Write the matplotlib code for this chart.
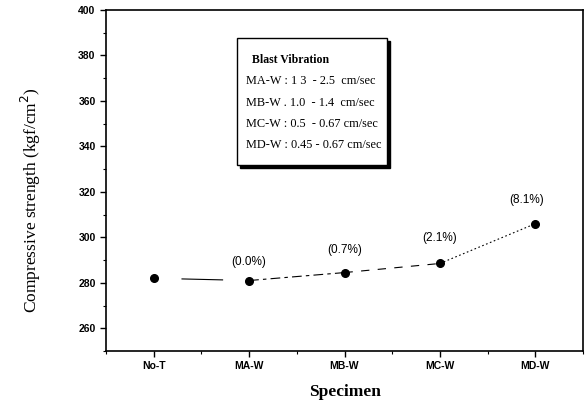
import matplotlib
matplotlib.use("Agg")
import matplotlib.pyplot as plt
from matplotlib.patches import Rectangle
from matplotlib.ticker import MultipleLocator

categories = ["No-T", "MA-W", "MB-W", "MC-W", "MD-W"]
strength = [282, 281, 284.5, 288.5, 306]
pct_labels = ["", "(0.0%)", "(0.7%)", "(2.1%)", "(8.1%)"]
legend_title = "Blast Vibration"
legend_lines = ["MA-W : 1 3  - 2.5  cm/sec",
                "MB-W . 1.0  - 1.4  cm/sec",
                "MC-W : 0.5  - 0.67 cm/sec",
                "MD-W : 0.45 - 0.67 cm/sec"]

plt.rcParams['lines.scale_dashes'] = False
serif = ["Liberation Serif", "DejaVu Serif"]
sans = ["Liberation Sans", "DejaVu Sans"]

fig = plt.figure(figsize=(5.87, 4.07), dpi=100)
ax = fig.add_axes([106/587, 1-351/407, (583-106)/587, (351-10)/407])

x = list(range(len(categories)))
styles = [(53, (30, 43)), (0, (7, 3, 2.5, 3)), (0, (6, 6)), (0, (1.2, 1.8))]
for i in range(len(x) - 1):
    ax.plot(x[i:i+2], strength[i:i+2], color="black", lw=0.8, linestyle=styles[i])
ax.plot(x, strength, linestyle="none", marker="o", ms=5.5, color="black")

offsets = [(0, 0), (0, 9), (0, 12), (0, 14), (-6, 13)]
for i, lab in enumerate(pct_labels):
    if lab:
        ax.annotate(lab, (x[i], strength[i]), xytext=offsets[i], textcoords="offset points",
                    ha="center", va="bottom", fontsize=8.5, fontfamily=sans)

ax.set_xlim(-0.5, 4.5)
ax.set_ylim(250, 400)
ax.set_xticks(x)
ax.set_xticklabels(categories)
ax.xaxis.set_minor_locator(MultipleLocator(0.5))
ax.yaxis.set_major_locator(MultipleLocator(20))
ax.yaxis.set_minor_locator(MultipleLocator(10))
ax.set_yticks(range(260, 401, 20))
ax.tick_params(which="major", direction="out", length=4, width=1)
ax.tick_params(which="minor", direction="out", length=2, width=0.8)
for lab in ax.get_xticklabels() + ax.get_yticklabels():
    lab.set_fontfamily(sans)
    lab.set_fontweight("bold")
    lab.set_fontsize(7.5)
for s in ax.spines.values():
    s.set_linewidth(1.2)

ax.set_ylabel("Compressive strength (kgf/cm$^2$)", fontsize=12.5, fontfamily=serif)
ax.yaxis.set_label_coords(-0.133, 0.443)
ax.set_xlabel("Specimen", fontsize=12.5, fontfamily=serif, fontweight="bold", labelpad=9)

# legend-like info box (figure pixel coordinates)
W, H = 587, 407
bx0, by0, bx1, by1 = 237, 38, 387, 165
shadow = Rectangle((bx0/W + 3/W, 1 - by1/H - 3/H), (bx1-bx0)/W, (by1-by0)/H,
                   transform=fig.transFigure, facecolor="black", edgecolor="black", zorder=5)
box = Rectangle((bx0/W, 1 - by1/H), (bx1-bx0)/W, (by1-by0)/H,
                transform=fig.transFigure, facecolor="white", edgecolor="black", lw=1, zorder=6)
fig.patches.extend([shadow, box])
fig.text(252/W, 1 - 60/H, legend_title, fontsize=8.5, fontfamily=serif, fontweight="bold",
         va="center", ha="left", zorder=7)
for j, line in enumerate(legend_lines):
    fig.text(246/W, 1 - (81 + j*21.5)/H, line, fontsize=8.8, fontfamily=serif,
             va="center", ha="left", zorder=7)

fig.savefig("out.png", dpi=100)
